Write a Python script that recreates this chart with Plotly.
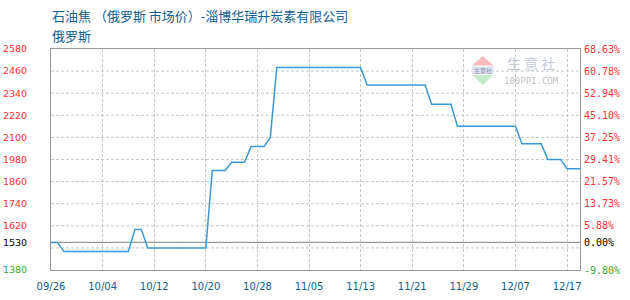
import plotly.graph_objects as go

# Daily quotation dates (MM/DD)
DATES = [
    "09/26", "09/27", "09/28", "09/29", "09/30",
    "10/01", "10/02", "10/03", "10/04", "10/05", "10/06", "10/07", "10/08", "10/09", "10/10",
    "10/11", "10/12", "10/13", "10/14", "10/15", "10/16", "10/17", "10/18", "10/19", "10/20",
    "10/21", "10/22", "10/23", "10/24", "10/25", "10/26", "10/27", "10/28", "10/29", "10/30",
    "10/31",
    "11/01", "11/02", "11/03", "11/04", "11/05", "11/06", "11/07", "11/08", "11/09", "11/10",
    "11/11", "11/12", "11/13", "11/14", "11/15", "11/16", "11/17", "11/18", "11/19", "11/20",
    "11/21", "11/22", "11/23", "11/24", "11/25", "11/26", "11/27", "11/28", "11/29", "11/30",
    "12/01", "12/02", "12/03", "12/04", "12/05", "12/06", "12/07", "12/08", "12/09", "12/10",
    "12/11", "12/12", "12/13", "12/16", "12/17", "12/18", "12/19",
]

# Petroleum coke (Russia) market price, yuan/ton
PRICES = [
    1530, 1530,
    1480, 1480, 1480, 1480, 1480, 1480, 1480, 1480, 1480, 1480, 1480,
    1600, 1600,
    1500, 1500, 1500, 1500, 1500, 1500, 1500, 1500, 1500, 1500,
    1920, 1920, 1920,
    1965, 1965, 1965,
    2050, 2050, 2050,
    2100,
    2480, 2480, 2480, 2480, 2480, 2480, 2480, 2480, 2480, 2480, 2480, 2480, 2480, 2480,
    2385, 2385, 2385, 2385, 2385, 2385, 2385, 2385, 2385, 2385,
    2280, 2280, 2280, 2280,
    2160, 2160, 2160, 2160, 2160, 2160, 2160, 2160, 2160, 2160,
    2065, 2065, 2065, 2065,
    1980, 1980, 1980,
    1930, 1930, 1930,
]

BASE_PRICE = 1530
Y_RANGE = [1380, 2580]
PRICE_TICKS = [1380, 1530, 1620, 1740, 1860, 1980, 2100, 2220, 2340, 2460, 2580]
GRID_PRICES = [1500, 1620, 1740, 1860, 1980, 2100, 2220, 2340, 2460]
X_TICKS = ["09/26", "10/04", "10/12", "10/20", "10/28", "11/05",
           "11/13", "11/21", "11/29", "12/07", "12/17"]

TITLE = "石油焦 （俄罗斯 市场价）-淄博华瑞升炭素有限公司"
SUBTITLE = "俄罗斯"

RED, GREEN, BLACK = "#ff3333", "#33aa33", "#000000"
LINE_BLUE = "#3a9ad8"
AXIS_GRAY = "#999999"
GRID_GRAY = "#c8c8c8"
TEXT_BLUE = "#135e8e"

W, H = 630, 300
ML, MR, MT, MB = 51, 50, 49, 30
PW, PH = W - ML - MR, H - MT - MB


def tone(v):
    if v > BASE_PRICE:
        return RED
    if v < BASE_PRICE:
        return GREEN
    return BLACK


def colored(text, v):
    return f"<span style='color:{tone(v)}'>{text}</span>"


left_text = [colored(str(v), v) for v in PRICE_TICKS]
right_text = [colored(f"{(v - BASE_PRICE) / BASE_PRICE * 100:.2f}%", v) for v in PRICE_TICKS]


def px(x, y):
    """Pixel position -> paper coordinates."""
    return (x - ML) / PW, (H - MB - y) / PH


fig = go.Figure()

fig.add_trace(go.Scatter(
    x=DATES, y=PRICES, mode="lines",
    line=dict(color=LINE_BLUE, width=1.5),
    hoverinfo="x+y", showlegend=False,
))
# companion trace that anchors the percentage axis
fig.add_trace(go.Scatter(
    x=DATES, y=PRICES, mode="lines", yaxis="y2",
    line=dict(color="rgba(0,0,0,0)", width=0),
    hoverinfo="skip", showlegend=False,
))

shapes = []
for g in GRID_PRICES:
    shapes.append(dict(type="line", xref="paper", yref="y", x0=0, x1=1, y0=g, y1=g,
                       line=dict(color=GRID_GRAY, width=1, dash="3px,2px"), layer="below"))
shapes.append(dict(type="line", xref="paper", yref="y", x0=0, x1=1,
                   y0=BASE_PRICE, y1=BASE_PRICE,
                   line=dict(color=AXIS_GRAY, width=1.2), layer="below"))


# watermark logo: red and green triangles
def tri(points, color):
    pts = [px(*p) for p in points]
    path = "M " + " L ".join(f"{a:.4f},{b:.4f}" for a, b in pts) + " Z"
    return dict(type="path", xref="paper", yref="paper", path=path,
                fillcolor=color, line=dict(width=0), layer="below")


shapes.append(tri([(472, 65.5), (482.7, 56), (493.5, 65.5)], "#f6bcbc"))
shapes.append(tri([(472, 75), (482.7, 85), (493.5, 75)], "#c6eccb"))
shapes.append(dict(type="rect", xref="paper", yref="paper",
                   x0=px(472, 66.5)[0], x1=px(493.5, 66.5)[0],
                   y0=px(0, 74)[1], y1=px(0, 66.5)[1],
                   fillcolor="#dde3ee", line=dict(width=0), layer="below"))

annotations = []
tx, ty = px(50, 15)
annotations.append(dict(text=TITLE, x=tx, y=ty, xref="paper", yref="paper",
                        xanchor="left", yanchor="middle", showarrow=False,
                        font=dict(family="Noto Sans CJK SC", size=13, color=TEXT_BLUE)))
sx, sy = px(50, 35)
annotations.append(dict(text=SUBTITLE, x=sx, y=sy, xref="paper", yref="paper",
                        xanchor="left", yanchor="middle", showarrow=False,
                        font=dict(family="Noto Sans CJK SC", size=13, color=TEXT_BLUE)))
wx, wy = px(531, 63)
annotations.append(dict(text="生 意 社", x=wx, y=wy, xref="paper", yref="paper",
                        xanchor="center", yanchor="middle", showarrow=False,
                        font=dict(family="Noto Sans CJK SC", size=14, color="#c3cad8")))
cx, cy = px(531, 80.5)
annotations.append(dict(text="100PPI.COM", x=cx, y=cy, xref="paper", yref="paper",
                        xanchor="center", yanchor="middle", showarrow=False,
                        font=dict(family="DejaVu Sans Mono", size=9, color="#c4c4c4")))
lx, ly = px(482.7, 70.3)
annotations.append(dict(text="生意社", x=lx, y=ly, xref="paper", yref="paper",
                        xanchor="center", yanchor="middle", showarrow=False,
                        font=dict(family="Noto Sans CJK SC", size=6, color="#8a93a8")))

fig.update_layout(
    width=W, height=H,
    margin=dict(l=ML, r=MR, t=MT, b=MB, pad=0, autoexpand=False),
    paper_bgcolor="white", plot_bgcolor="white",
    showlegend=False,
    shapes=shapes,
    annotations=annotations,
    xaxis=dict(
        type="category", range=[0, len(DATES) - 1], automargin=False,
        tickmode="array", tickvals=X_TICKS, ticktext=X_TICKS,
        tickfont=dict(family="DejaVu Sans", size=10, color=TEXT_BLUE),
        showgrid=True, gridcolor=GRID_GRAY, griddash="3px,2px", gridwidth=1,
        showline=True, linecolor=AXIS_GRAY, linewidth=1, mirror=True,
        ticks="", ticklabelstandoff=7, zeroline=False,
    ),
    yaxis=dict(
        range=Y_RANGE, tickmode="array", tickvals=PRICE_TICKS, ticktext=left_text,
        tickfont=dict(family="DejaVu Sans", size=9.5), automargin=False,
        showgrid=False, zeroline=False,
        showline=True, linecolor=AXIS_GRAY, linewidth=1, mirror=True,
        ticks="", ticklabelstandoff=21,
    ),
    yaxis2=dict(
        range=Y_RANGE, overlaying="y", side="right", automargin=False,
        tickmode="array", tickvals=PRICE_TICKS, ticktext=right_text,
        tickfont=dict(family="DejaVu Sans Mono", size=10),
        showgrid=False, zeroline=False, showline=False,
        ticks="", ticklabelstandoff=3,
    ),
)

fig.write_html("out.html")
